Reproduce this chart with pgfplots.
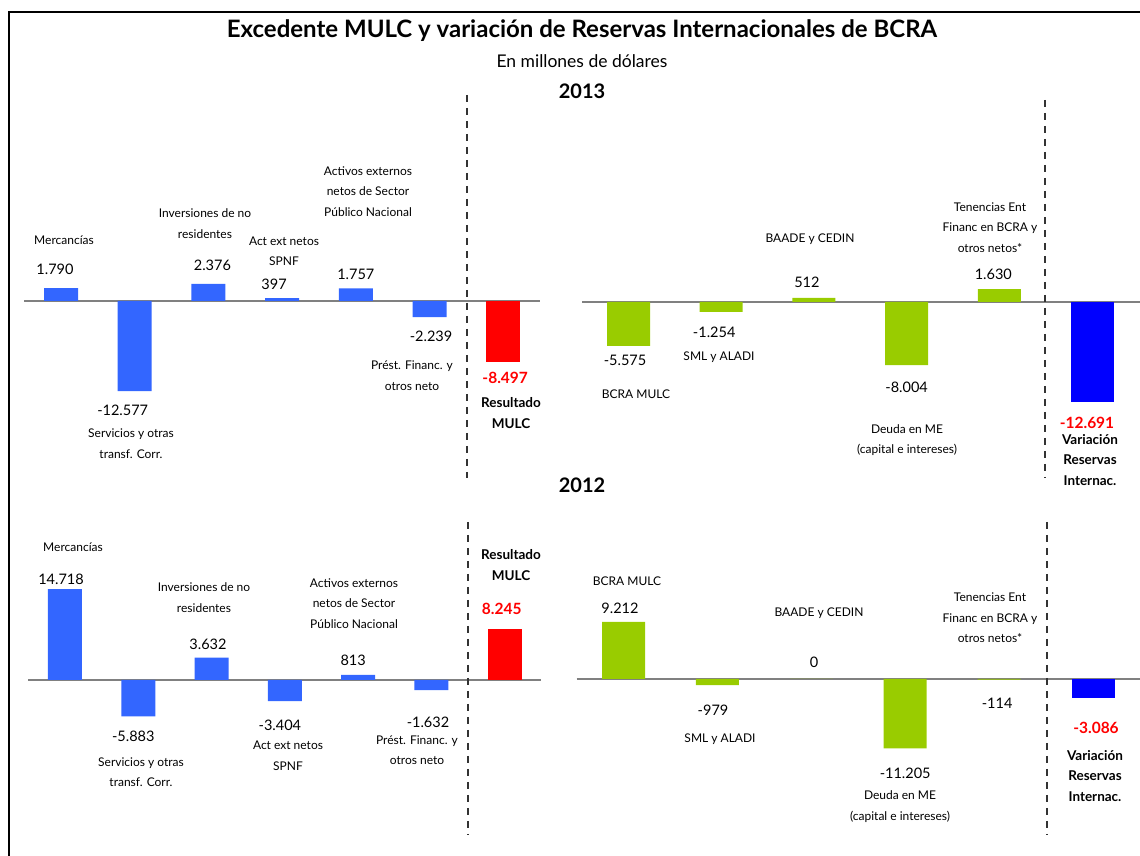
\documentclass[border=0pt]{standalone}
\usepackage{fontspec}
\setmainfont{Lato}
\usepackage{pgfplots}
\usepackage{pgfplotstable}
\pgfplotsset{compat=1.18}
\definecolor{blueA}{RGB}{51,102,255}
\definecolor{greenA}{RGB}{153,204,0}
\definecolor{blueB}{RGB}{0,0,255}
\definecolor{redA}{RGB}{255,0,0}
\definecolor{zline}{RGB}{128,128,128}
\newcommand\valfont{\fontsize{14.5}{18}\selectfont}
\newcommand\labfont{\fontsize{12}{20.5}\selectfont}
\newcommand\blabfont{\fontsize{13.5}{20.5}\selectfont\bfseries}
\newcommand\lbl[3]{\node[align=center,font=\labfont,inner sep=0pt] at (#1pt,#2pt) {#3};}
\newcommand\lblb[3]{\node[align=center,font=\blabfont,inner sep=0pt] at (#1pt,#2pt) {#3};}

% 2013 MULC
\pgfplotstableread{
x y dx dy lab
0 1.790 -6 19 1.790
1 -12.577 -12 -19 -12.577
2 2.376 4 19 2.376
3 0.397 -8 14 397
4 1.757 0 14 1.757
5 -2.239 1.5 -19 -2.239
}\tla
\pgfplotstableread{
x y dx dy lab
6 -8.497 2 -16 -8.497
}\tlb
% 2013 Reservas
\pgfplotstableread{
x y dx dy lab
0 -5.575 -3.5 -14 -5.575
1 -1.254 -7 -20 -1.254
2 0.512 -7 16 512
3 -8.004 0 -22 -8.004
4 1.630 -6 15 1.630
}\tra
\pgfplotstableread{
x y dx dy lab
5 -12.691 -5 -21 -12.691
}\trb
% 2012 MULC
\pgfplotstableread{
x y dx dy lab
0 14.718 -4 10 14.718
1 -5.883 -5 -20 -5.883
2 3.632 -3.6 13.6 3.632
3 -3.404 -5 -24 -3.404
4 0.813 -5 15 813
5 -1.632 -3.5 -32 -1.632
}\bla
\pgfplotstableread{
x y dx dy lab
6 8.245 -3 20 8.245
}\blb
% 2012 Reservas
\pgfplotstableread{
x y dx dy lab
0 9.212 -3.5 14 9.212
1 -0.979 -4.4 -25 -979
2 0 2.7 17 0
3 -11.205 0 -24.5 -11.205
4 -0.114 -2 -24 -114
}\bra
\pgfplotstableread{
x y dx dy lab
5 -3.086 3 -30 -3.086
}\brb

\pgfplotsset{
  panel/.style={
    scale only axis, hide axis, clip=false, enlargelimits=false,
    anchor=south west, ybar,
  },
  mybars/.style={
    bar shift=0pt, draw=none,
    nodes near coords,
    point meta=explicit symbolic,
    visualization depends on={\thisrow{dx} \as \dx},
    visualization depends on={\thisrow{dy} \as \dy},
    every node near coord/.append style={anchor=center, xshift=\dx pt, yshift=\dy pt, font=\valfont, inner sep=0pt},
  },
  finalbar/.style={
    every node near coord/.append style={text=redA, font=\fontsize{15.5}{18}\selectfont\bfseries},
  },
}

\begin{document}
\begin{tikzpicture}
% frame
\draw[line width=2pt] (9pt,0pt) -- (9pt,844pt) -- (1141pt,844pt);

% ---- 2013 MULC ----
\begin{axis}[panel, at={(24.15pt,461.8pt)}, width=515.9pt, height=114.72pt,
  xmin=-0.5, xmax=6.5, ymin=-13, ymax=3]
\draw[zline, line width=1.5pt] (axis cs:-0.5,0) -- (axis cs:6.5,0);
\addplot[mybars, fill=blueA, bar width=34pt] table[x=x, y=y, meta=lab] {\tla};
\addplot[mybars, finalbar, fill=redA, bar width=34pt] table[x=x, y=y, meta=lab] {\tlb};
\end{axis}

% ---- 2013 Reservas ----
\begin{axis}[panel, at={(582.15pt,451.56pt)}, width=558.05pt, height=126.08pt,
  xmin=-0.5, xmax=5.52, ymin=-13, ymax=3]
\draw[zline, line width=1.5pt] (axis cs:-0.5,0) -- (axis cs:5.52,0);
\addplot[mybars, fill=greenA, bar width=43pt] table[x=x, y=y, meta=lab] {\tra};
\addplot[mybars, finalbar, fill=blueB, bar width=43pt] table[x=x, y=y, meta=lab] {\trb};
\end{axis}

% ---- 2012 MULC ----
\begin{axis}[panel, at={(28.35pt,132.74pt)}, width=513.1pt, height=135.96pt,
  xmin=-0.5, xmax=6.5, ymin=-7, ymax=15]
\draw[zline, line width=1.5pt] (axis cs:-0.5,0) -- (axis cs:6.5,0);
\addplot[mybars, fill=blueA, bar width=34pt] table[x=x, y=y, meta=lab] {\bla};
\addplot[mybars, finalbar, fill=redA, bar width=34pt] table[x=x, y=y, meta=lab] {\blb};
\end{axis}

% ---- 2012 Reservas ----
\begin{axis}[panel, at={(576.55pt,102.6pt)}, width=563.4pt, height=136.4pt,
  xmin=-0.5, xmax=5.5, ymin=-12, ymax=10]
\draw[zline, line width=1.5pt] (axis cs:-0.5,0) -- (axis cs:5.5,0);
\addplot[mybars, fill=greenA, bar width=43pt] table[x=x, y=y, meta=lab] {\bra};
\addplot[mybars, finalbar, fill=blueB, bar width=43pt] table[x=x, y=y, meta=lab] {\brb};
\end{axis}

% dashed separators
\draw[black!80, line width=1.2pt, dash pattern=on 7pt off 6pt] (467pt,761pt) -- (467pt,378pt);
\draw[black!80, line width=1.2pt, dash pattern=on 7pt off 6pt] (1045pt,756pt) -- (1045pt,378pt);
\draw[black!80, line width=1.2pt, dash pattern=on 7pt off 6pt] (468pt,334pt) -- (468pt,21pt);
\draw[black!80, line width=1.2pt, dash pattern=on 7pt off 6pt] (1047pt,334pt) -- (1047pt,21pt);

% titles
\node[font=\fontsize{24}{28}\selectfont\bfseries] at (582pt,825pt) {Excedente MULC y variación de Reservas Internacionales de BCRA};
\node[font=\fontsize{17.5}{20}\selectfont] at (582pt,795pt) {En millones de dólares};
\node[font=\fontsize{20}{24}\selectfont\bfseries] at (582pt,765pt) {2013};
\node[font=\fontsize{20}{24}\selectfont\bfseries] at (582pt,371pt) {2012};

% 2013 MULC labels
\lbl{64}{616}{Mercancías}
\lbl{131}{412.5}{Servicios y otras\\transf. Corr.}
\lbl{205}{632.5}{Inversiones de no\\residentes}
\lbl{284}{604.5}{Act ext netos\\SPNF}
\lbl{368}{664.5}{Activos externos\\netos de Sector\\Público Nacional}
\lbl{412}{480.5}{Prést. Financ. y\\otros neto}
\lblb{511}{443}{Resultado\\MULC}

% 2013 Reservas labels
\lbl{636}{462}{BCRA MULC}
\lbl{719}{499}{SML y ALADI}
\lbl{810}{617}{BAADE y CEDIN}
\lbl{907}{416}{Deuda en ME\\(capital e intereses)}
\lbl{990}{628.5}{Tenencias Ent\\Financ en BCRA y\\otros netos*}
\lblb{1090}{396}{Variación\\Reservas\\Internac.}

% 2012 MULC labels
\lbl{73}{309}{Mercancías}
\lbl{204}{258.5}{Inversiones de no\\residentes}
\lbl{354}{252.5}{Activos externos\\netos de Sector\\Público Nacional}
\lblb{511}{291}{Resultado\\MULC}
\lbl{141}{84}{Servicios y otras\\transf. Corr.}
\lbl{288}{100}{Act ext netos\\SPNF}
\lbl{417}{106}{Prést. Financ. y\\otros neto}

% 2012 Reservas labels
\lbl{627}{275}{BCRA MULC}
\lbl{819}{243}{BAADE y CEDIN}
\lbl{990}{238}{Tenencias Ent\\Financ en BCRA y\\otros netos*}
\lbl{720}{117}{SML y ALADI}
\lbl{900}{49.5}{Deuda en ME\\(capital e intereses)}
\lblb{1095}{80}{Variación\\Reservas\\Internac.}

\pgfresetboundingbox
\path[use as bounding box] (0pt,0pt) rectangle (1140pt,856pt);
\end{tikzpicture}
\end{document}
